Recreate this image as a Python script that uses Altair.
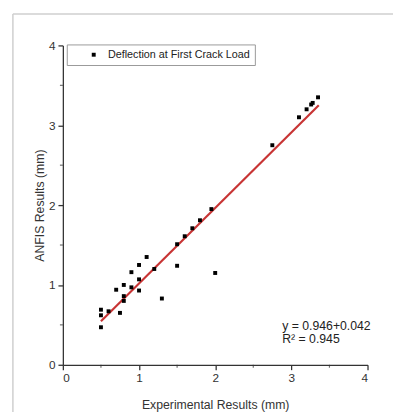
import altair as alt
import pandas as pd

# Scatter data
exp_x = [0.5, 0.5, 0.5, 0.6, 0.7, 0.75, 0.8, 0.8, 0.8, 0.9, 0.9, 1.0, 1.0, 1.0,
         1.1, 1.2, 1.3, 1.5, 1.5, 1.6, 1.7, 1.8, 1.95, 2.0, 2.75, 3.1, 3.2,
         3.26, 3.28, 3.35]
anfis_y = [0.69, 0.62, 0.47, 0.67, 0.94, 0.65, 1.00, 0.86, 0.80, 1.16, 0.97,
           1.25, 1.07, 0.93, 1.35, 1.20, 0.83, 1.51, 1.24, 1.61, 1.71, 1.81,
           1.95, 1.15, 2.75, 3.10, 3.20, 3.26, 3.28, 3.35]
series_name = "Deflection at First Crack Load"

# Fitted line end points
fit_x = [0.5, 3.36]
fit_y = [0.545, 3.25]

# Annotation
ann_text = ["y = 0.946+0.042", "R² = 0.945"]
ann_x = [2.88, 2.88]
ann_y = [0.49, 0.32]

major_ticks = [0, 1, 2, 3, 4]
minor_ticks = [0.5, 1.5, 2.5, 3.5]

FONT = "Liberation Sans, Arial, sans-serif"

pts = pd.DataFrame({"x": exp_x, "y": anfis_y, "s": [series_name] * len(exp_x)})
fit = pd.DataFrame({"x": fit_x, "y": fit_y})
ann = pd.DataFrame({"x": ann_x, "y": ann_y, "t": ann_text})
minor_df = pd.DataFrame({"v": minor_ticks})

xs = alt.Scale(domain=[0, 4], nice=False, zero=False)
ys = alt.Scale(domain=[0, 4], nice=False, zero=False)

xaxis = alt.Axis(values=major_ticks, grid=False, tickSize=5, labelPadding=3,
                 labelFontSize=12, labelFont=FONT, labelColor="#333",
                 domainColor="#333", tickColor="#333", domainWidth=1.3,
                 tickWidth=1.3, title="Experimental Results (mm)",
                 titleFont=FONT, titleFontSize=12.5, titleFontWeight="normal",
                 titleColor="#333", titlePadding=16)
yaxis = alt.Axis(values=major_ticks, grid=False, tickSize=5, labelPadding=3,
                 labelFontSize=12, labelFont=FONT, labelColor="#333",
                 domainColor="#333", tickColor="#333", domainWidth=1.3,
                 tickWidth=1.3, title="ANFIS Results (mm)",
                 titleFont=FONT, titleFontSize=12.5, titleFontWeight="normal",
                 titleColor="#333", titlePadding=2)

X = alt.X("x:Q", scale=xs, axis=xaxis)
Y = alt.Y("y:Q", scale=ys, axis=yaxis)

line = alt.Chart(fit).mark_line(color="#c83434", strokeWidth=2.2).encode(x=X, y=Y)

points = alt.Chart(pts).mark_square(size=16, filled=True, opacity=1).encode(
    x=X, y=Y,
    color=alt.Color("s:N", scale=alt.Scale(range=["black"]),
                    legend=alt.Legend(title=None, orient="none", legendX=4,
                                      legendY=-1, strokeColor="#999",
                                      fillColor="white", padding=5,
                                      symbolType="square", symbolSize=16,
                                      symbolOffset=17, labelFont=FONT,
                                      labelFontSize=11, labelColor="#222",
                                      labelOffset=9, labelLimit=400)),
)

# minor ticks (through the scales)
minor_x = alt.Chart(minor_df).mark_tick(color="#333", thickness=1.2, size=3,
                                        orient="vertical").encode(
    x=alt.X("v:Q", scale=xs, axis=xaxis), y=alt.value(327.5))
minor_y = alt.Chart(minor_df).mark_tick(color="#333", thickness=1.2, size=3,
                                        orient="horizontal").encode(
    y=alt.Y("v:Q", scale=ys, axis=yaxis), x=alt.value(-1.5))

text = alt.Chart(ann).mark_text(align="left", baseline="middle", font=FONT,
                                fontSize=12.5, color="#222").encode(
    x=alt.X("x:Q", scale=xs, axis=xaxis), y=alt.Y("y:Q", scale=ys, axis=yaxis),
    text="t:N")

one = alt.Data(values=[{"a": 1}])
frame_left = alt.Chart(one).mark_rule(color="#cfcfcf", strokeWidth=1.5).encode(
    x=alt.value(-51), y=alt.value(-32), y2=alt.value(420))
frame_top = alt.Chart(one).mark_rule(color="#cfcfcf", strokeWidth=1.5).encode(
    x=alt.value(-51), x2=alt.value(400), y=alt.value(-32))

chart = alt.layer(frame_left, frame_top, line, points, text, minor_x, minor_y).properties(
    width=311, height=326,
    autosize=alt.AutoSizeParams(type="none"),
    padding={"left": 56, "top": 34, "right": 26, "bottom": 44},
    background="white",
).configure_view(stroke=None)

chart.save("out.html", embed_options={"renderer": "svg", "actions": False})
